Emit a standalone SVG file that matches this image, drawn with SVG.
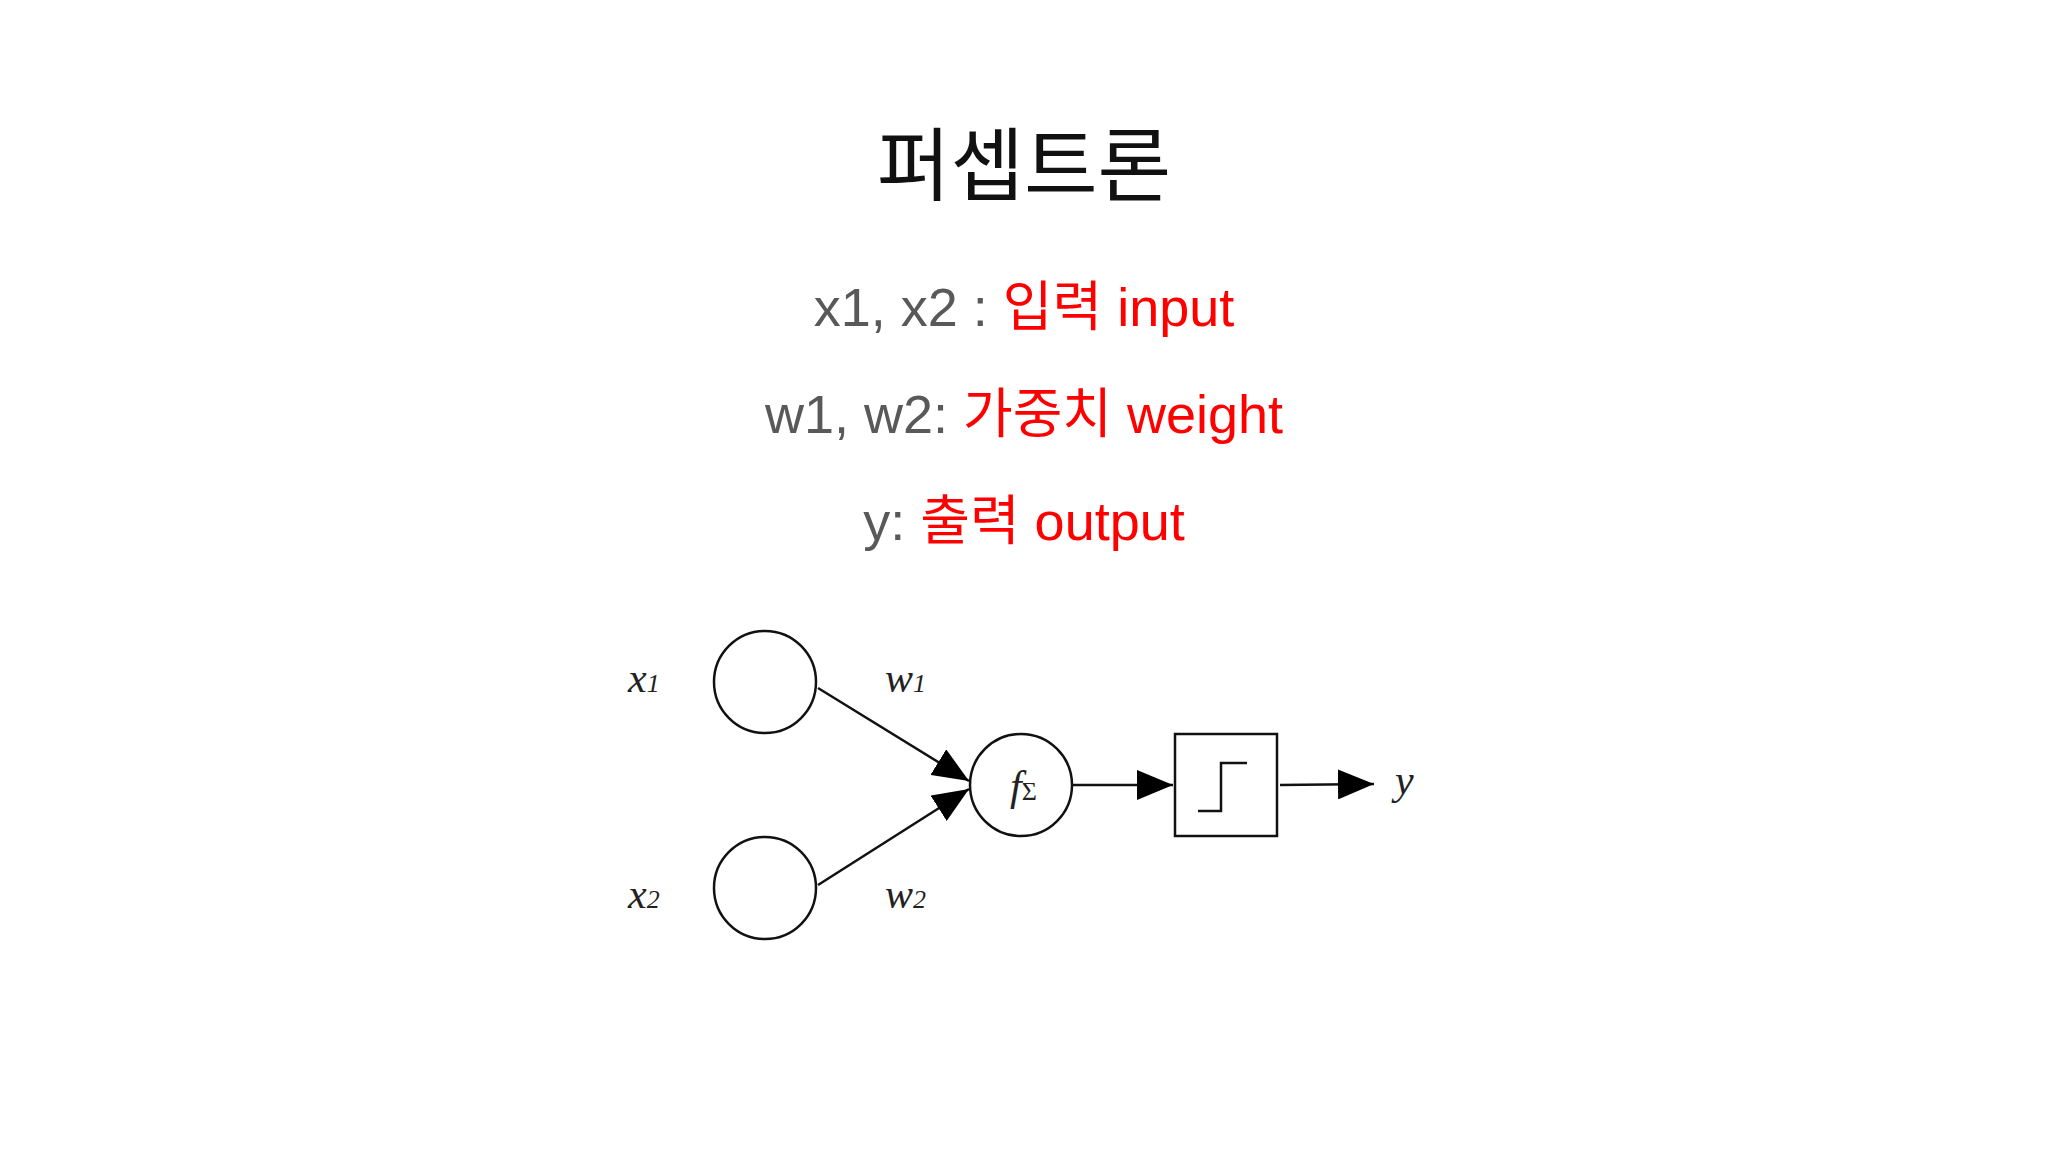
<svg xmlns="http://www.w3.org/2000/svg" width="2048" height="1152" viewBox="0 0 2048 1152">
<defs>
<style>
.t{font-family:"Liberation Sans","Noto Sans CJK KR",sans-serif;text-anchor:middle}
.g{fill:#595959}.r{fill:#ff0000}
.m{font-family:"Liberation Serif","DejaVu Serif",serif;font-style:italic;fill:#222;font-size:42px}
.s{fill:none;stroke:#111;stroke-width:2.5}
</style>
<marker id="ah" viewBox="0 0 10 10" refX="10" refY="5" markerWidth="12" markerHeight="12" markerUnits="userSpaceOnUse" orient="auto">
<path d="M0,0L10,5L0,10z" fill="#000"/></marker>
<marker id="ah2" viewBox="0 0 10 10" refX="10" refY="5" markerWidth="36" markerHeight="30" markerUnits="userSpaceOnUse" orient="auto" preserveAspectRatio="none">
<path d="M0,0L10,5L0,10z" fill="#000"/></marker>
</defs>
<rect width="2048" height="1152" fill="#fff"/>
<text id="title" class="t" x="1024" y="194" font-size="80" fill="#111">퍼셉트론</text>
<text id="l1" class="t g" x="1024" y="326" font-size="54">x1, x2 : <tspan class="r">입력 input</tspan></text>
<text id="l2" class="t g" x="1024" y="433" font-size="54">w1, w2: <tspan class="r">가중치 weight</tspan></text>
<text id="l3" class="t g" x="1024" y="540" font-size="54">y: <tspan class="r">출력 output</tspan></text>
<g id="n-x1"><circle class="s" cx="765" cy="682" r="51"/><text class="m" x="628" y="692">x<tspan font-size="26">1</tspan></text></g>
<g id="n-x2"><circle class="s" cx="765" cy="888" r="51"/><text class="m" x="628" y="908">x<tspan font-size="26">2</tspan></text></g>
<g id="n-sum"><circle class="s" cx="1021" cy="785" r="51"/><text class="m" x="1010" y="800" font-size="48">f<tspan font-style="normal" font-size="26">Σ</tspan></text></g>
<g id="n-step"><rect class="s" x="1175" y="734" width="102" height="102"/><polyline class="s" points="1198,811 1221,811 1221,763 1247,763"/></g>
<g id="n-y"><text class="m" x="1395" y="794" font-size="46">y</text></g>
<g id="labels"><text class="m" x="885" y="692">w<tspan font-size="26">1</tspan></text><text class="m" x="885" y="908">w<tspan font-size="26">2</tspan></text></g>
<g id="connectors">
<line class="s" x1="818" y1="688" x2="969" y2="781" marker-end="url(#ah2)"/>
<line class="s" x1="818" y1="885" x2="969" y2="789" marker-end="url(#ah2)"/>
<line class="s" x1="1073" y1="785" x2="1173" y2="785" marker-end="url(#ah2)"/>
<line class="s" x1="1280" y1="785" x2="1374" y2="784" marker-end="url(#ah2)"/>
</g>
</svg>
